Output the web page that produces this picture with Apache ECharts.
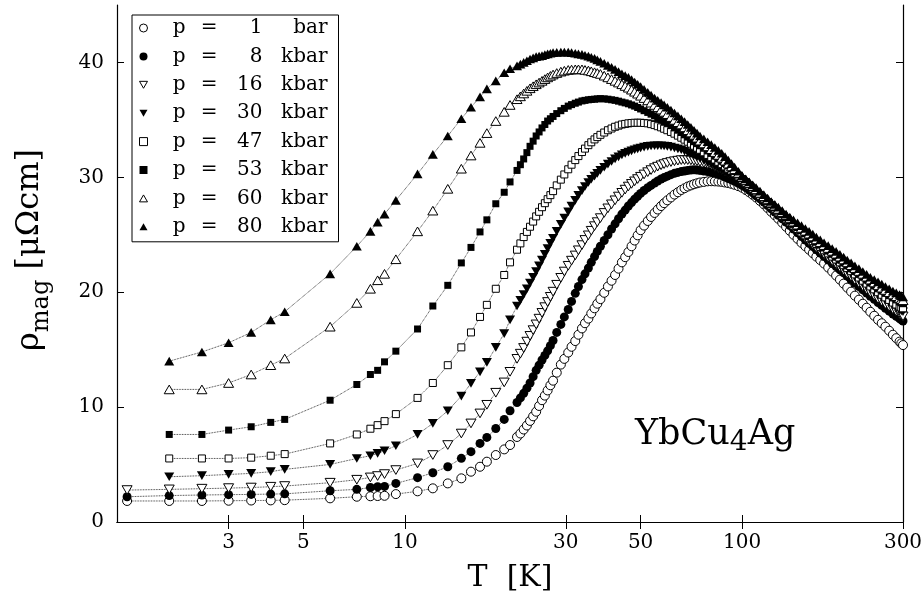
<!DOCTYPE html>
<html>
<head>
<meta charset="utf-8">
<script src="https://cdn.jsdelivr.net/npm/echarts@6/dist/echarts.min.js"></script>
<style>
html, body { margin: 0; padding: 0; background: #fff; }
#chart { width: 923px; height: 600px; }
</style>
</head>
<body>
<div id="chart"></div>
<script>
// temperatures (K): sparse low-T points, then the dense run above 20 K
var tLow = [1.5, 2, 2.5, 3, 3.5, 4, 4.4, 6, 7.2, 7.9, 8.3, 8.7, 9.4, 10.9, 12.1, 13.4, 14.7, 15.7, 16.7, 17.5, 18.6, 19.7, 20.5];
var tHigh = [21.5, 22, 22.5, 23, 23.5, 24, 24.5, 25, 25.5, 26, 26.5, 27, 27.5, 28.2, 29, 29.7, 30.5, 31.2, 32, 32.7,
    33.5, 34.2, 35, 35.7, 36.5, 37.2, 38, 39, 40, 41, 42, 43, 44, 45, 46, 47, 48, 49, 50, 51.2,
    52.5, 53.7, 55, 56.2, 57.5, 58.7, 60, 61.5, 63, 64.5, 66, 67.5, 69, 70.5, 72, 73.5, 75, 77, 79, 81,
    83, 85, 87, 89, 91, 93, 95, 97.5, 100, 102.5, 105, 107.5, 110, 113, 116, 119, 122, 125, 128, 131.5,
    135, 138.5, 142, 146, 150, 154, 158, 162, 166, 170.5, 175, 180, 185, 190, 195, 200, 205, 210.5, 216, 222,
    228, 234, 240, 246.5, 253, 259.5, 266, 273, 280, 286.5, 293, 296.5, 300];

var xTicks = [3, 5, 10, 30, 50, 100, 300];
var yTicks = [0, 10, 20, 30, 40];

var legendNum = ['1', '8', '16', '30', '47', '53', '60', '80'];
var legendUnit = ['bar', 'kbar', 'kbar', 'kbar', 'kbar', 'kbar', 'kbar', 'kbar'];

// rho_mag (micro-ohm cm): low part (tLow) then dense part (tHigh)
var rho1 = [1.83, 1.83, 1.83, 1.85, 1.87, 1.88, 1.9, 2.06, 2.2, 2.24, 2.26, 2.28, 2.43, 2.67, 2.93, 3.36, 3.8, 4.38, 4.81, 5.25, 5.83, 6.32, 6.7,
    7.4, 7.7, 8.05, 8.4, 8.8, 9.2, 9.6, 10.1, 10.6, 11.0, 11.45, 11.9, 12.3, 13.0, 13.7, 14.2, 14.75, 15.25, 15.75, 16.3,
    16.85, 17.3, 17.7, 18.15, 18.6, 19.0, 19.4, 19.95, 20.5, 21.0, 21.5, 22.05, 22.6, 23.05, 23.5, 24.0, 24.5, 24.95, 25.4, 25.8,
    26.2, 26.55, 26.9, 27.2, 27.5, 27.75, 28.0, 28.25, 28.5, 28.7, 28.9, 29.05, 29.2, 29.3, 29.4, 29.48, 29.55, 29.6, 29.65, 29.66,
    29.65, 29.63, 29.6, 29.55, 29.5, 29.43, 29.35, 29.23, 29.1, 28.9, 28.7, 28.48, 28.25, 27.95, 27.65, 27.33, 27.0, 26.7, 26.4, 26.05,
    25.7, 25.35, 25.0, 24.65, 24.3, 24.0, 23.7, 23.4, 23.1, 22.8, 22.5, 22.15, 21.8, 21.45, 21.1, 20.75, 20.4, 20.05, 19.7, 19.35,
    19.0, 18.65, 18.3, 17.95, 17.6, 17.3, 17.0, 16.65, 16.3, 16.0, 15.7, 15.55, 15.4];
var rho8 = [2.2, 2.3, 2.35, 2.38, 2.4, 2.43, 2.45, 2.72, 2.84, 3.0, 3.07, 3.1, 3.36, 3.86, 4.29, 4.81, 5.54, 6.12, 6.84, 7.36, 8.14, 8.93, 9.68,
    10.4, 10.8, 11.2, 11.65, 12.1, 12.65, 13.2, 13.65, 14.1, 14.5, 14.9, 15.35, 15.8, 16.5, 17.2, 17.85, 18.5, 19.2, 19.9, 20.5,
    21.1, 21.6, 22.1, 22.6, 23.1, 23.55, 24.0, 24.5, 25.0, 25.5, 25.95, 26.4, 26.8, 27.15, 27.5, 27.8, 28.1, 28.35, 28.6, 28.85,
    29.1, 29.3, 29.5, 29.68, 29.85, 29.98, 30.1, 30.23, 30.35, 30.43, 30.5, 30.55, 30.6, 30.63, 30.65, 30.63, 30.6, 30.55, 30.5, 30.43,
    30.35, 30.25, 30.15, 30.03, 29.9, 29.78, 29.65, 29.48, 29.3, 29.1, 28.9, 28.65, 28.4, 28.13, 27.85, 27.55, 27.25, 26.98, 26.7, 26.4,
    26.1, 25.8, 25.5, 25.18, 24.85, 24.55, 24.25, 23.98, 23.7, 23.4, 23.1, 22.8, 22.5, 22.23, 21.95, 21.68, 21.4, 21.1, 20.8, 20.5,
    20.2, 19.93, 19.65, 19.38, 19.1, 18.85, 18.6, 18.35, 18.1, 17.9, 17.7, 17.6, 17.5];
var rho16 = [2.78, 2.84, 2.9, 2.95, 3.0, 3.07, 3.13, 3.42, 3.68, 3.88, 4.0, 4.17, 4.52, 5.1, 5.83, 6.7, 7.7, 8.58, 9.45, 10.2, 11.25, 12.15, 13.07,
    14.2, 14.65, 15.15, 15.7, 16.2, 16.7, 17.2, 17.7, 18.2, 18.7, 19.15, 19.6, 20.05, 20.65, 21.25, 21.8, 22.3, 22.75, 23.2, 23.65,
    24.1, 24.55, 24.95, 25.35, 25.75, 26.1, 26.45, 26.9, 27.3, 27.65, 28.0, 28.33, 28.65, 28.93, 29.2, 29.43, 29.65, 29.85, 30.05, 30.25,
    30.45, 30.63, 30.8, 30.93, 31.05, 31.15, 31.25, 31.33, 31.4, 31.45, 31.5, 31.5, 31.5, 31.48, 31.45, 31.4, 31.35, 31.25, 31.15, 31.03,
    30.9, 30.78, 30.65, 30.5, 30.35, 30.2, 30.05, 29.83, 29.6, 29.35, 29.1, 28.83, 28.55, 28.25, 27.95, 27.65, 27.35, 27.08, 26.8, 26.5,
    26.2, 25.9, 25.6, 25.3, 25.0, 24.7, 24.4, 24.13, 23.85, 23.58, 23.3, 23.0, 22.7, 22.43, 22.15, 21.88, 21.6, 21.33, 21.05, 20.78,
    20.5, 20.23, 19.95, 19.68, 19.4, 19.18, 18.95, 18.73, 18.5, 18.3, 18.1, 18.0, 17.9];
var rho30 = [null, 3.94, 4.03, 4.14, 4.23, 4.38, 4.58, 5.01, 5.53, 5.77, 5.97, 6.2, 6.64, 7.62, 8.58, 9.68, 10.96, 12.06, 13.07, 13.9, 15.2, 16.4, 17.6,
    18.8, 19.3, 19.8, 20.3, 20.8, 21.3, 21.8, 22.3, 22.8, 23.3, 23.8, 24.25, 24.7, 25.3, 25.9, 26.45, 27.0, 27.5, 28.0, 28.43,
    28.85, 29.2, 29.55, 29.83, 30.1, 30.35, 30.6, 30.88, 31.15, 31.38, 31.6, 31.78, 31.95, 32.08, 32.2, 32.3, 32.4, 32.48, 32.55, 32.63,
    32.7, 32.73, 32.75, 32.75, 32.75, 32.73, 32.7, 32.63, 32.55, 32.48, 32.4, 32.28, 32.15, 32.03, 31.9, 31.78, 31.65, 31.48, 31.3, 31.13,
    30.95, 30.8, 30.65, 30.48, 30.3, 30.15, 30.0, 29.8, 29.6, 29.38, 29.15, 28.88, 28.6, 28.3, 28.0, 27.73, 27.45, 27.18, 26.9, 26.6,
    26.3, 26.0, 25.7, 25.4, 25.1, 24.83, 24.55, 24.3, 24.05, 23.78, 23.5, 23.23, 22.95, 22.68, 22.4, 22.15, 21.9, 21.63, 21.35, 21.08,
    20.8, 20.55, 20.3, 20.03, 19.75, 19.53, 19.3, 19.08, 18.85, 18.65, 18.45, 18.38, 18.3];
var rho47 = [null, 5.53, 5.53, 5.53, 5.6, 5.77, 5.91, 6.84, 7.62, 8.12, 8.43, 8.78, 9.39, 10.8, 12.1, 13.65, 15.2, 16.5, 17.85, 18.9, 20.3, 21.5, 22.6,
    23.7, 24.25, 24.8, 25.25, 25.7, 26.15, 26.6, 27.0, 27.4, 27.75, 28.1, 28.45, 28.8, 29.3, 29.8, 30.25, 30.7, 31.1, 31.5, 31.85,
    32.2, 32.5, 32.8, 33.05, 33.3, 33.5, 33.7, 33.9, 34.1, 34.25, 34.4, 34.5, 34.6, 34.65, 34.7, 34.73, 34.75, 34.75, 34.75, 34.73,
    34.7, 34.63, 34.55, 34.45, 34.35, 34.23, 34.1, 33.95, 33.8, 33.63, 33.45, 33.28, 33.1, 32.93, 32.75, 32.58, 32.4, 32.18, 31.95, 31.75,
    31.55, 31.35, 31.15, 30.95, 30.75, 30.55, 30.35, 30.08, 29.8, 29.53, 29.25, 28.98, 28.7, 28.4, 28.1, 27.8, 27.5, 27.23, 26.95, 26.65,
    26.35, 26.08, 25.8, 25.5, 25.2, 24.95, 24.7, 24.45, 24.2, 23.93, 23.65, 23.38, 23.1, 22.85, 22.6, 22.35, 22.1, 21.83, 21.55, 21.28,
    21.0, 20.75, 20.5, 20.25, 20.0, 19.78, 19.55, 19.33, 19.1, 18.93, 18.75, 18.68, 18.6];
var rho53 = [null, 7.62, 7.62, 8.0, 8.29, 8.67, 8.93, 10.6, 11.97, 12.84, 13.2, 13.94, 14.87, 16.8, 18.8, 20.6, 22.55, 23.9, 25.25, 26.3, 27.7, 28.7, 29.6,
    30.6, 31.1, 31.6, 32.15, 32.7, 33.15, 33.6, 33.95, 34.3, 34.6, 34.9, 35.1, 35.3, 35.55, 35.8, 36.0, 36.2, 36.33, 36.45, 36.55,
    36.65, 36.7, 36.75, 36.78, 36.8, 36.83, 36.85, 36.83, 36.8, 36.75, 36.7, 36.63, 36.55, 36.48, 36.4, 36.3, 36.2, 36.08, 35.95, 35.8,
    35.65, 35.5, 35.35, 35.18, 35.0, 34.85, 34.7, 34.5, 34.3, 34.1, 33.9, 33.7, 33.5, 33.3, 33.1, 32.93, 32.75, 32.53, 32.3, 32.08,
    31.85, 31.63, 31.4, 31.2, 31.0, 30.75, 30.5, 30.2, 29.9, 29.63, 29.35, 29.08, 28.8, 28.5, 28.2, 27.9, 27.6, 27.33, 27.05, 26.75,
    26.45, 26.18, 25.9, 25.63, 25.35, 25.1, 24.85, 24.6, 24.35, 24.1, 23.85, 23.58, 23.3, 23.05, 22.8, 22.55, 22.3, 22.05, 21.8, 21.55,
    21.3, 21.05, 20.8, 20.55, 20.3, 20.1, 19.9, 19.7, 19.5, 19.33, 19.15, 19.08, 19.0];
var rho60 = [null, 11.54, 11.54, 12.1, 12.84, 13.65, 14.23, 17.0, 19.07, 20.3, 21.04, 21.6, 22.87, 25.3, 27.1, 29.0, 30.75, 31.9, 33.0, 33.85, 34.9, 35.7, 36.3,
    36.8, 37.05, 37.3, 37.53, 37.75, 37.93, 38.1, 38.25, 38.4, 38.55, 38.7, 38.83, 38.95, 39.08, 39.2, 39.28, 39.35, 39.38, 39.4, 39.4,
    39.4, 39.35, 39.3, 39.23, 39.15, 39.08, 39.0, 38.85, 38.7, 38.55, 38.4, 38.25, 38.1, 37.95, 37.8, 37.63, 37.45, 37.28, 37.1, 36.9,
    36.7, 36.5, 36.3, 36.1, 35.9, 35.7, 35.5, 35.25, 35.0, 34.8, 34.6, 34.35, 34.1, 33.9, 33.7, 33.45, 33.2, 32.95, 32.7, 32.45,
    32.2, 31.95, 31.7, 31.45, 31.2, 30.95, 30.7, 30.38, 30.05, 29.78, 29.5, 29.23, 28.95, 28.65, 28.35, 28.08, 27.8, 27.53, 27.25, 26.98,
    26.7, 26.43, 26.15, 25.88, 25.6, 25.35, 25.1, 24.85, 24.6, 24.35, 24.1, 23.85, 23.6, 23.35, 23.1, 22.85, 22.6, 22.35, 22.1, 21.85,
    21.6, 21.35, 21.1, 20.85, 20.6, 20.4, 20.2, 20.0, 19.8, 19.65, 19.5, 19.4, 19.3];
var rho80 = [null, 14.0, 14.8, 15.6, 16.5, 17.6, 18.3, 21.6, 24.0, 25.3, 26.1, 26.8, 28.0, 30.3, 32.0, 33.6, 35.1, 36.1, 37.0, 37.7, 38.4, 39.1, 39.45,
    39.7, 39.85, 40.0, 40.15, 40.3, 40.4, 40.5, 40.55, 40.6, 40.68, 40.75, 40.8, 40.85, 40.88, 40.9, 40.9, 40.9, 40.85, 40.8, 40.75,
    40.7, 40.63, 40.55, 40.45, 40.35, 40.23, 40.1, 39.93, 39.75, 39.58, 39.4, 39.2, 39.0, 38.85, 38.7, 38.5, 38.3, 38.1, 37.9, 37.65,
    37.4, 37.15, 36.9, 36.7, 36.5, 36.3, 36.1, 35.85, 35.6, 35.35, 35.1, 34.85, 34.6, 34.35, 34.1, 33.85, 33.6, 33.35, 33.1, 32.85,
    32.6, 32.35, 32.1, 31.8, 31.5, 31.2, 30.9, 30.53, 30.15, 29.88, 29.6, 29.35, 29.1, 28.8, 28.5, 28.2, 27.9, 27.65, 27.4, 27.1,
    26.8, 26.55, 26.3, 26.05, 25.8, 25.55, 25.3, 25.05, 24.8, 24.55, 24.3, 24.05, 23.8, 23.55, 23.3, 23.05, 22.8, 22.55, 22.3, 22.05,
    21.8, 21.55, 21.3, 21.1, 20.9, 20.7, 20.5, 20.3, 20.1, 19.95, 19.8, 19.7, 19.6];

var FONT = 'DejaVu Serif';
var DOWN = 'path://M0,0L10,0L5,8.66Z';
var UP = 'path://M5,0L10,8.66L0,8.66Z';

var allT = tLow.concat(tHigh);
var rhoList = [rho1, rho8, rho16, rho30, rho47, rho53, rho60, rho80];
var marks = [
    { symbol: 'circle', size: 9, hollow: true },
    { symbol: 'circle', size: 9, hollow: false },
    { symbol: DOWN, size: 10, hollow: true },
    { symbol: DOWN, size: 10, hollow: false },
    { symbol: 'rect', size: 7, hollow: true },
    { symbol: 'rect', size: 7, hollow: false },
    { symbol: UP, size: 10, hollow: true },
    { symbol: UP, size: 10, hollow: false }
];

function itemStyleOf(m) {
    return m.hollow ? { color: '#fff', borderColor: '#000', borderWidth: 1 }
                    : { color: '#000', borderColor: '#000', borderWidth: 0 };
}

var series = [];
var legendData = [];
for (var i = 0; i < rhoList.length; i++) {
    var pts = [];
    for (var k = 0; k < allT.length; k++) {
        if (rhoList[i][k] != null) pts.push([allT[k], rhoList[i][k]]);
    }
    var name = legendNum[i] + ' ' + legendUnit[i];
    series.push({
        name: name,
        type: 'line',
        data: pts,
        symbol: marks[i].symbol,
        symbolSize: marks[i].size,
        symbolKeepAspect: true,
        showSymbol: true,
        itemStyle: itemStyleOf(marks[i]),
        lineStyle: { color: '#000', width: 0.8, type: 'dotted' },
        silent: true,
        animation: false
    });
    legendData.push({ name: name, icon: marks[i].symbol, itemStyle: itemStyleOf(marks[i]) });
}

var tickStyle = { color: '#000', width: 1 };
function xAxisOf(pos, withLabels) {
    return {
        type: 'log', logBase: 10, min: 1.4, max: 300, position: pos,
        axisLine: { lineStyle: { color: '#000', width: 1.2 } },
        axisTick: { inside: true, length: 7, customValues: xTicks, lineStyle: tickStyle },
        minorTick: { show: false },
        axisLabel: { show: withLabels, customValues: xTicks, color: '#000', fontFamily: FONT, fontSize: 20, margin: 11 },
        splitLine: { show: false },
        name: withLabels ? 'T  [K]' : '',
        nameLocation: 'middle',
        nameGap: 41,
        nameTextStyle: { color: '#000', fontFamily: FONT, fontSize: 30 }
    };
}
function yAxisOf(pos, withLabels) {
    return {
        type: 'value', min: 0, max: 45, position: pos,
        axisLine: { show: true, lineStyle: { color: '#000', width: 1.2 } },
        axisTick: { show: true, inside: true, length: 7, customValues: yTicks, lineStyle: tickStyle },
        axisLabel: { show: withLabels, customValues: yTicks, color: '#000', fontFamily: FONT, fontSize: 20, margin: 13 },
        splitLine: { show: false },
        name: withLabels ? '{r|ρ}{s|mag}{r| [μΩcm]}' : '',
        nameLocation: 'middle',
        nameRotate: 90,
        nameGap: 63,
        nameTextStyle: {
            color: '#000', fontFamily: FONT, padding: [0, 0, 0, 27],
            rich: {
                r: { fontFamily: FONT, fontSize: 32, lineHeight: 40, verticalAlign: 'top', color: '#000' },
                s: { fontFamily: FONT, fontSize: 24, lineHeight: 24, padding: [24, 0, 0, 0], verticalAlign: 'bottom', color: '#000' }
            }
        }
    };
}

// every legend token right-aligned so the columns line up
var legendRich = {
    p: { width: 33, align: 'right' },
    e: { width: 32, align: 'right' },
    n: { width: 45, align: 'right' },
    u: { width: 65, align: 'right', padding: [0, 7, 0, 0] }
};
for (var key in legendRich) {
    legendRich[key].fontFamily = FONT;
    legendRich[key].fontSize = 20;
    legendRich[key].lineHeight = 20;
    legendRich[key].color = '#000';
}

var chart = echarts.init(document.getElementById('chart'));
chart.setOption({
    backgroundColor: '#fff',
    animation: false,
    grid: { left: 117, right: 20, top: 5, bottom: 78, outerBoundsMode: 'none' },
    xAxis: [xAxisOf('bottom', true), xAxisOf('top', false)],
    yAxis: [yAxisOf('left', true), yAxisOf('right', false)],
    legend: {
        orient: 'vertical',
        left: 132, top: 15,
        padding: [3, 4, 5, 7],
        itemWidth: 8, itemHeight: 8, itemGap: 8.4,
        borderColor: '#000', borderWidth: 1, backgroundColor: '#fff',
        selectedMode: false,
        data: legendData,
        formatter: function (name) {
            var idx = 0;
            for (var j = 0; j < legendNum.length; j++) {
                if (legendNum[j] + ' ' + legendUnit[j] === name) idx = j;
            }
            return '{p|p}{e|=}{n|' + legendNum[idx] + '}{u|' + legendUnit[idx] + '}';
        },
        textStyle: { color: '#000', fontFamily: FONT, fontSize: 20, rich: legendRich }
    },
    graphic: [{
        type: 'text',
        left: 635, top: 409,
        silent: true,
        style: {
            text: '{a|YbCu}{b|4}{a|Ag}',
            fill: '#000',
            rich: {
                a: { fontFamily: FONT, fontSize: 35, lineHeight: 40, verticalAlign: 'top', fill: '#000' },
                b: { fontFamily: FONT, fontSize: 28, lineHeight: 28, padding: [20, 0, 0, 0], verticalAlign: 'bottom', fill: '#000' }
            }
        }
    }],
    series: series
});
</script>
</body>
</html>
